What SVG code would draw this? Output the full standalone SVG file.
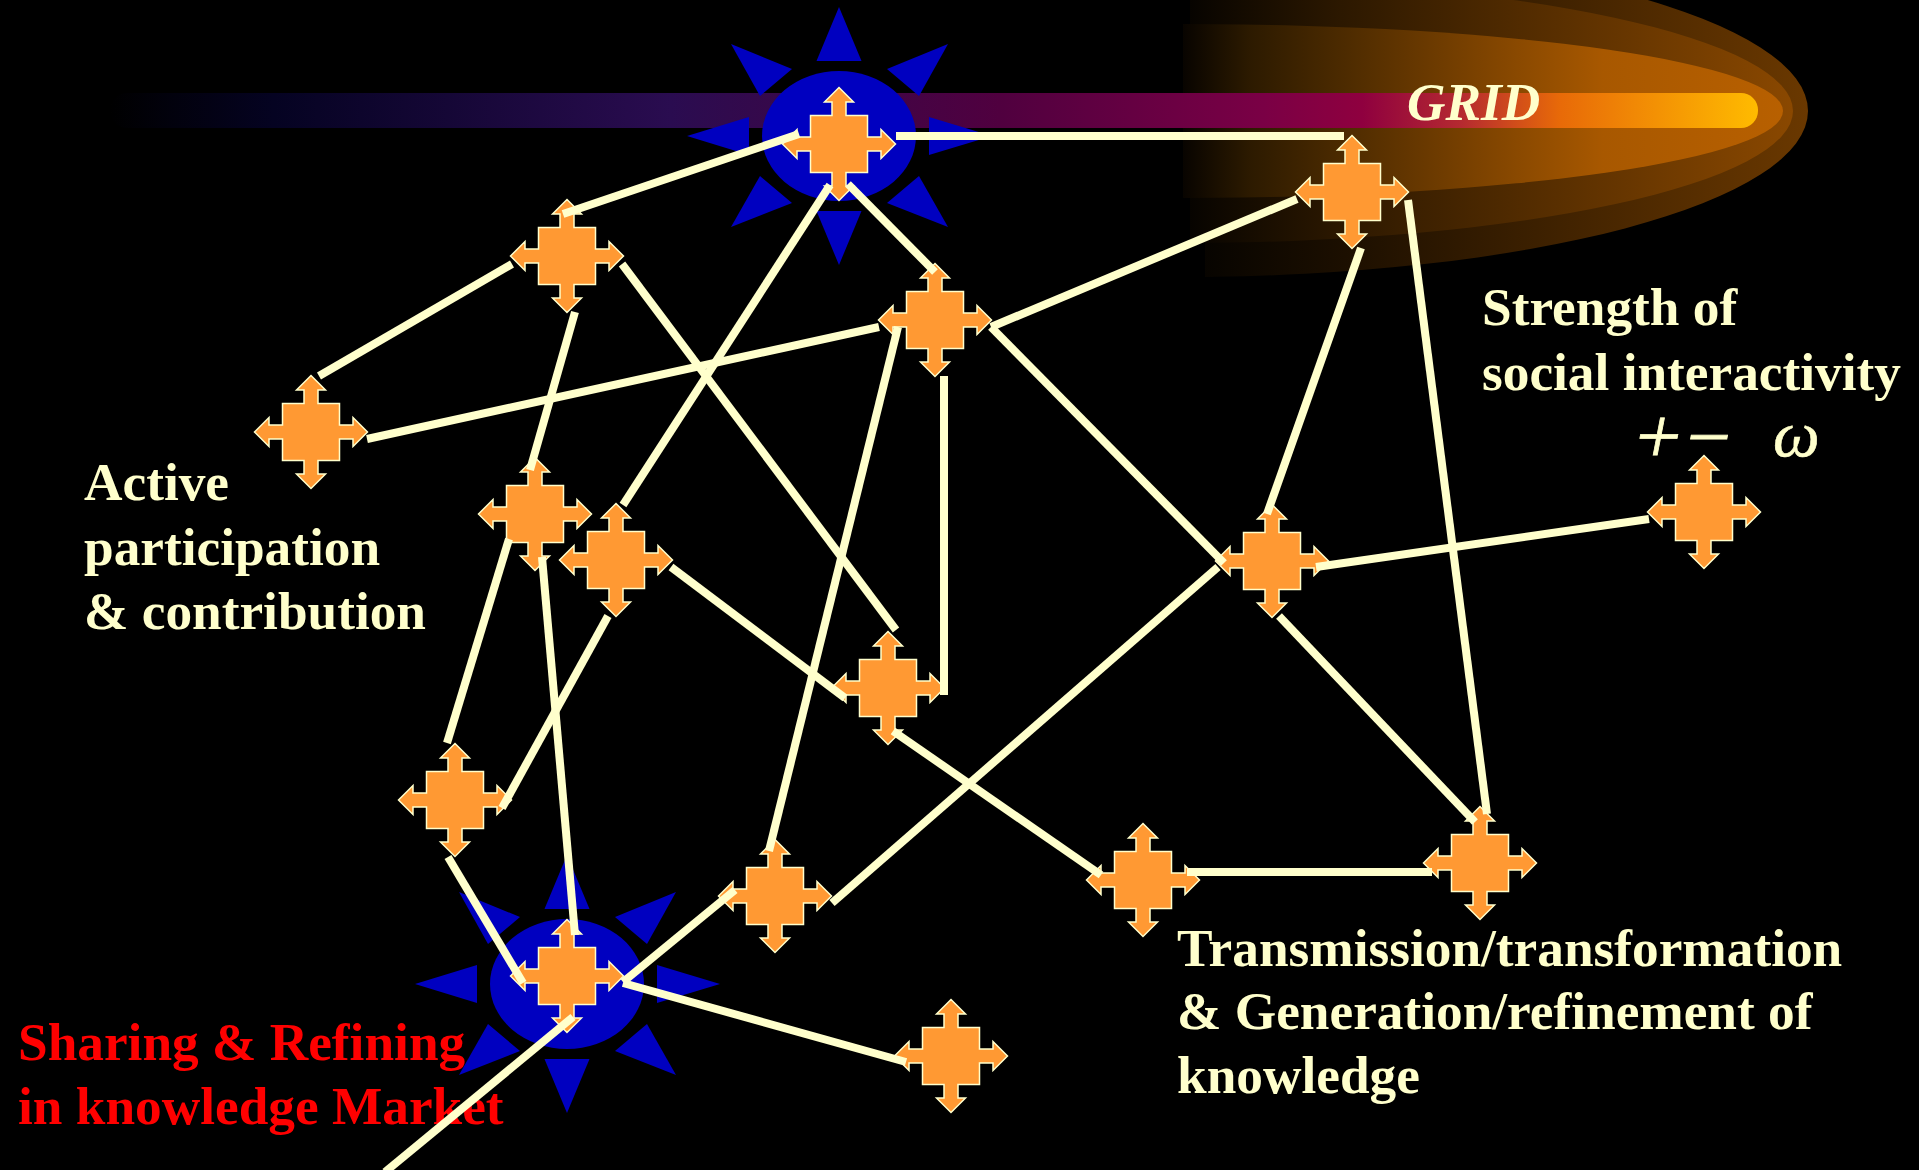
<svg xmlns="http://www.w3.org/2000/svg" xmlns:xlink="http://www.w3.org/1999/xlink" width="1919" height="1170" viewBox="0 0 1919 1170">
<style>
.t{font-family:"Liberation Serif","Times New Roman",serif;font-weight:700;font-size:53.3px;fill:#FFFFCC}
.r{fill:#FF0000}
.c line{stroke:#FFFFCC;stroke-width:8}
.n{fill:#FF9933;stroke:#FFFFCC;stroke-width:1.5}
.s{fill:#0000C0}
.m{font-family:"Liberation Serif",serif;font-style:italic;fill:#FFFFCC}
</style>
<defs>
<linearGradient id="bar" gradientUnits="userSpaceOnUse" x1="110" y1="0" x2="1758" y2="0">
<stop offset="0" stop-color="#000000"/><stop offset="0.1" stop-color="#050322"/><stop offset="0.34" stop-color="#2a0c50"/><stop offset="0.54" stop-color="#50003f"/><stop offset="0.7" stop-color="#7a0045"/><stop offset="0.76" stop-color="#8f003f"/><stop offset="0.82" stop-color="#b52a30"/><stop offset="0.88" stop-color="#e86a08"/><stop offset="1" stop-color="#ffbb00"/>
</linearGradient>
<linearGradient id="g1" gradientUnits="userSpaceOnUse" x1="1190" y1="0" x2="1808" y2="0"><stop offset="0" stop-color="#050300"/><stop offset="0.25" stop-color="#1c0f00"/><stop offset="1" stop-color="#6a3800"/></linearGradient>
<linearGradient id="g2" gradientUnits="userSpaceOnUse" x1="1190" y1="0" x2="1793" y2="0"><stop offset="0" stop-color="#070400"/><stop offset="0.25" stop-color="#2c1800"/><stop offset="1" stop-color="#8a4800"/></linearGradient>
<linearGradient id="g3" gradientUnits="userSpaceOnUse" x1="1183" y1="0" x2="1783" y2="0"><stop offset="0" stop-color="#080400"/><stop offset="0.11" stop-color="#2c1a00"/><stop offset="0.28" stop-color="#4f2c00"/><stop offset="0.7" stop-color="#a85800"/><stop offset="1" stop-color="#b86000"/></linearGradient>
<path id="node" class="n" d="M0,-56.5L14.5,-42H7V-28.5H28.5V-7H42V-14.5L56.5,0L42,14.5V7H28.5V28.5H7V42H14.5L0,56.5L-14.5,42H-7V28.5H-28.5V7H-42V14.5L-56.5,0L-42,-14.5V-7H-28.500V-28.5H-7V-42H-14.5Z"/>
<g id="sun" class="s">
<ellipse cx="0" cy="0" rx="77" ry="65"/>
<path d="M0,-129L22.500,-75H-22.500Z"/><path d="M0,129L22.500,75H-22.500Z"/>
<path d="M153,0L90,-19V19Z"/><path d="M-152,0L-90,-19V19Z"/>
<path d="M109,-92L48,-67L80,-40Z"/><path d="M-108,-92L-47,-67L-79,-40Z"/>
<path d="M109,91L48,67L80,40Z"/><path d="M-108,91L-47,67L-79,40Z"/>
</g>
</defs>
<rect width="1919" height="1170" fill="#000000"/>
<g id="grid-glow">
<path d="M1190,-55H1183A625,166 0 0 1 1808,111A625,166 0 0 1 1183,277H1205V240H1190Z" fill="url(#g1)"/>
<path d="M1190,-21H1183A610,132 0 0 1 1793,111A610,132 0 0 1 1183,243H1190Z" fill="url(#g2)"/>
<path d="M1183,24A600,87 0 0 1 1783,111A600,87 0 0 1 1183,198Z" fill="url(#g3)"/>
<rect x="110" y="93" width="1648" height="35" rx="17" fill="url(#bar)"/>
</g>
<use id="sun-top" xlink:href="#sun" x="839" y="136"/>
<use id="sun-bottom" xlink:href="#sun" x="567" y="984"/>
<text class="t" x="1407" y="120" style="font-style:italic">GRID</text>
<g class="t">
<text x="84" y="500">Active</text><text x="84" y="565">participation</text><text x="84" y="629">&amp; contribution</text>
<text x="1482" y="325">Strength of</text><text x="1482" y="390">social interactivity</text>
<text x="1177" y="966">Transmission/transformation</text><text x="1177" y="1029">&amp; Generation/refinement of</text><text x="1177" y="1093">knowledge</text>
</g>
<g class="t"><text class="r" x="18" y="1060">Sharing &amp; Refining</text><text class="r" x="18" y="1124">in knowledge Market</text></g>
<g class="m">
<text transform="translate(1626 463) skewX(-11)" font-size="80" stroke="#FFFFCC" stroke-width="0.8">+</text>
<text transform="translate(1677 463) skewX(-11)" font-size="78" stroke="#FFFFCC" stroke-width="0.8">−</text>
<text x="1773" y="456" font-size="66" stroke="#FFFFCC" stroke-width="0.6">ω</text>
</g>
<g id="n1"><use xlink:href="#node" x="839" y="144"/></g>
<g id="n2"><use xlink:href="#node" x="567" y="256"/></g>
<g id="n3"><use xlink:href="#node" x="311" y="432"/></g>
<g id="n4"><use xlink:href="#node" x="935" y="320"/></g>
<g id="n5"><use xlink:href="#node" x="1352" y="192"/></g>
<g id="n6"><use xlink:href="#node" x="535" y="514"/></g>
<g id="n7"><use xlink:href="#node" x="616" y="560"/></g>
<g id="n8"><use xlink:href="#node" x="1272" y="561"/></g>
<g id="n9"><use xlink:href="#node" x="1704" y="512"/></g>
<g id="n10"><use xlink:href="#node" x="888" y="688"/></g>
<g id="n11"><use xlink:href="#node" x="455" y="800"/></g>
<g id="n12"><use xlink:href="#node" x="567" y="976"/></g>
<g id="n13"><use xlink:href="#node" x="775" y="896"/></g>
<g id="n14"><use xlink:href="#node" x="1143" y="880"/></g>
<g id="n15"><use xlink:href="#node" x="1480" y="863"/></g>
<g id="n16"><use xlink:href="#node" x="951" y="1056"/></g>
<g id="connectors" class="c">
<line x1="896" y1="136" x2="1344" y2="136"/>
<line x1="799" y1="134" x2="563" y2="214"/>
<line x1="830" y1="185" x2="623" y2="505"/>
<line x1="848" y1="184" x2="935" y2="272"/>
<line x1="512" y1="264" x2="319" y2="376"/>
<line x1="575" y1="312" x2="530" y2="470"/>
<line x1="622" y1="264" x2="896" y2="630"/>
<line x1="879" y1="327" x2="367" y2="439"/>
<line x1="991" y1="327" x2="1297" y2="199"/>
<line x1="991" y1="327" x2="1224" y2="563"/>
<line x1="1361" y1="248" x2="1267" y2="514"/>
<line x1="1408" y1="200" x2="1487" y2="814"/>
<line x1="1316" y1="567" x2="1649" y2="519"/>
<line x1="1279" y1="616" x2="1475" y2="822"/>
<line x1="1218" y1="567" x2="832" y2="903"/>
<line x1="898" y1="327" x2="769" y2="851"/>
<line x1="944" y1="376" x2="944" y2="695"/>
<line x1="671" y1="567" x2="845" y2="698"/>
<line x1="893" y1="731" x2="1101" y2="875"/>
<line x1="1187" y1="872" x2="1432" y2="872"/>
<line x1="509" y1="539" x2="447" y2="743"/>
<line x1="542" y1="557" x2="575" y2="935"/>
<line x1="608" y1="616" x2="502" y2="808"/>
<line x1="448" y1="857" x2="523" y2="983"/>
<line x1="623" y1="982" x2="735" y2="890"/>
<line x1="623" y1="983" x2="906" y2="1062"/>
<line x1="573" y1="1017" x2="385" y2="1172"/>
</g>
</svg>
